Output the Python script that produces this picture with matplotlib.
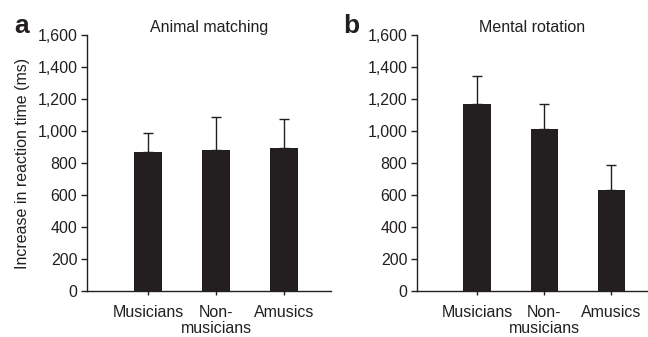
import matplotlib.pyplot as plt
import numpy as np

plt.rcParams['font.family'] = ['Liberation Sans', 'DejaVu Sans']

groups = ["Musicians", "Non-\nmusicians", "Amusics"]
animal_mean = [870, 883, 893]
animal_err = [117, 202, 180]
rotation_mean = [1169, 1012, 631]
rotation_err = [173, 159, 158]
yticks = [0, 200, 400, 600, 800, 1000, 1200, 1400, 1600]

ink = "#231f20"
fig = plt.figure(figsize=(6.48, 3.37), dpi=100)
ax_a = fig.add_axes([0.1343, 0.1365, 0.3765, 0.7596])
ax_b = fig.add_axes([0.6435, 0.1365, 0.3550, 0.7596])

panels = [
    (ax_a, animal_mean, animal_err, "Animal matching", "a", 3.69, -0.30),
    (ax_b, rotation_mean, rotation_err, "Mental rotation", "b", 3.53, -0.32),
]

x = np.arange(1, 4)
for ax, means, errs, title, letter, xmax, lx in panels:
    ax.bar(x, means, width=0.41, color=ink, zorder=2)
    ax.errorbar(x, means, yerr=[np.zeros(3), errs], fmt="none",
                ecolor=ink, elinewidth=1, capsize=3.3, capthick=1, zorder=1)
    ax.set_xlim(0.103, xmax)
    ax.set_ylim(0, 1600)
    ax.set_yticks(yticks)
    ax.set_yticklabels([f"{v:,}" for v in yticks])
    ax.set_xticks(x)
    ax.set_xticklabels(groups, linespacing=1.1)
    for s in ["top", "right"]:
        ax.spines[s].set_visible(False)
    for s in ["left", "bottom"]:
        ax.spines[s].set_color(ink)
        ax.spines[s].set_linewidth(1)
    ax.tick_params(axis="y", length=4, width=1, color=ink, labelsize=11.5,
                   labelcolor=ink, pad=3)
    ax.tick_params(axis="x", length=3, width=1, color=ink, labelsize=11.5,
                   labelcolor=ink, pad=7)
    ax.set_title(title, fontsize=11.5, color=ink, pad=2)
    ax.text(lx, 1.035, letter, transform=ax.transAxes, fontsize=19,
            fontweight="bold", color=ink, ha="left", va="center")

ax_a.set_ylabel("Increase in reaction time (ms)", fontsize=11.5, color=ink,
                labelpad=5)

fig.savefig("out.png", dpi=100)
